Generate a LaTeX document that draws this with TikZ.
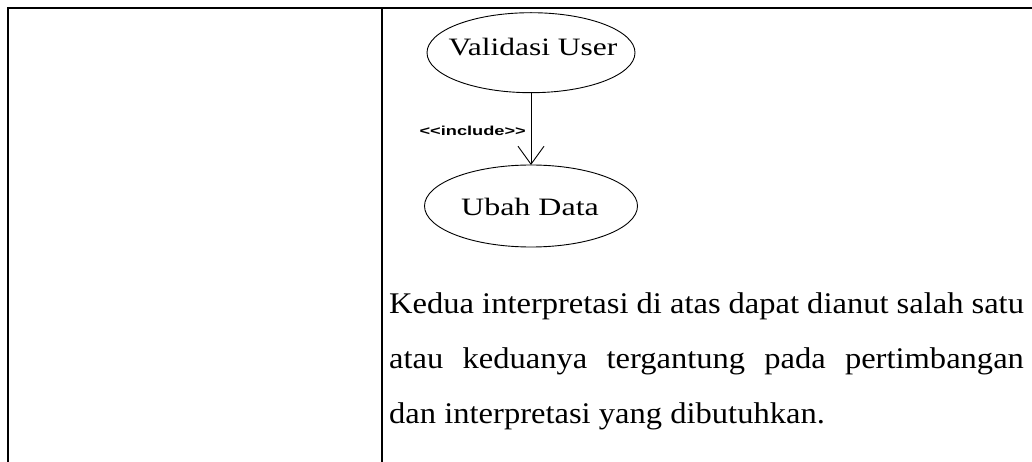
\documentclass[tikz,border=0pt]{standalone}
\usepackage{fontspec}
\setmainfont{Liberation Serif}
\newfontfamily\lblfont{Liberation Sans}
\usetikzlibrary{shapes.geometric,arrows.meta}

% one justified line of the body text, stretched to the column width
\newcommand{\fullline}[1]{\scalebox{1.085}[1]{\makebox[585pt][s]{#1}}}
\newcommand{\lastline}[1]{\scalebox{1.085}[1]{#1}}

\begin{document}
\begin{tikzpicture}[x=1pt,y=-1pt,
  rule/.style={line width=1.3pt},
  usecase/.style={draw, ellipse, line width=0.9pt, inner sep=0pt, outer sep=0pt},
  uctext/.style={inner sep=0pt, anchor=base, font=\fontsize{25}{25}\selectfont},
  incl/.style={line width=0.9pt, -{Straight Barb[length=18pt,width=26pt,line width=0.9pt]}},
  stereo/.style={inner sep=0pt, anchor=base east, font=\lblfont\bfseries\fontsize{13}{13}\selectfont},
  body/.style={inner sep=0pt, anchor=base west, font=\fontsize{30}{36}\selectfont}
]
\useasboundingbox (0,0) rectangle (1032,462);

% table rules
\coordinate (tl) at (8,8);
\coordinate (tr) at (1032,8);
\coordinate (bl) at (8,462);
\coordinate (mt) at (382,8);
\coordinate (mb) at (382,462);
\draw[rule] (bl) -- (tl) -- (tr);
\draw[rule] (mt) -- (mb);

% use cases
\node[usecase, minimum width=208pt, minimum height=80pt] (val) at (531,52.7) {};
\node[uctext] (valtxt) at (533,56) {\scalebox{1.26}[1]{Validasi User}};
\node[usecase, minimum width=213pt, minimum height=82pt] (ubah) at (531,206) {};
\node[uctext] (ubahtxt) at (530,216) {\scalebox{1.28}[1]{Ubah Data}};

% include relation
\draw[incl] (val.south) -- (ubah.north);
\node[stereo] (inc) at (526,135.5) {\scalebox{1.4}[1]{<<include>>}};

% body text
\node[body] (p1) at (389,313) {\fullline{Kedua interpretasi di atas dapat dianut salah satu}};
\node[body] (p2) at (389,368) {\fullline{atau keduanya tergantung pada pertimbangan}};
\node[body] (p3) at (389,423) {\lastline{dan interpretasi yang dibutuhkan.}};
\end{tikzpicture}
\end{document}
